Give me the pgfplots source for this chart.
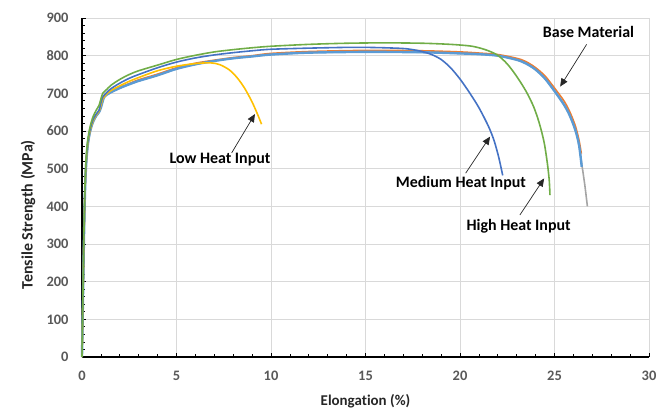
\documentclass[border=0pt]{standalone}
\usepackage{fontspec}
\setmainfont{Carlito}[Ligatures=NoCommon]
\usepackage{pgfplots}
\pgfplotsset{compat=1.18}
\usetikzlibrary{arrows.meta}

\definecolor{xlblue}{HTML}{4472C4}
\definecolor{xlorange}{HTML}{ED7D31}
\definecolor{xlgray}{HTML}{A5A5A5}
\definecolor{xlyellow}{HTML}{FFC000}
\definecolor{xllblue}{HTML}{5B9BD5}
\definecolor{xlgreen}{HTML}{70AD47}
\definecolor{gridgray}{HTML}{D9D9D9}
\definecolor{ticktext}{HTML}{595959}

\begin{document}
\begin{tikzpicture}
\path[use as bounding box] (-82bp,-55bp) rectangle (590bp,357bp);
\begin{axis}[
    at={(0,0)}, anchor=south west,
    scale only axis,
    width=567bp, height=339bp,
    xmin=0, xmax=30, ymin=0, ymax=900,
    enlargelimits=false,
    xtick distance=5, ytick distance=100,
    minor x tick num=4, minor y tick num=4,
    axis x line=bottom, axis y line=left,
    axis line style={-, black, line width=1.1pt},
    tick align=inside,
    major tick length=4bp, minor tick length=3bp,
    every tick/.style={black, line width=0.8pt},
    ymajorgrids=true, xmajorgrids=true,
    major grid style={gridgray, line width=0.8pt},
    /pgf/number format/assume math mode=true,
    tick label style={font=\bfseries\fontsize{14.5}{16}\selectfont, text=ticktext},
    xticklabel style={yshift=-11bp},
    yticklabel style={xshift=-10bp},
    xlabel={Elongation (\%)},
    ylabel={Tensile Strength (MPa)},
    label style={text=black!85},
    xlabel style={font=\bfseries\fontsize{15}{17}\selectfont,
                  at={(axis description cs:0.5,-0.13)}, anchor=center},
    ylabel style={font=\bfseries\fontsize{16}{18}\selectfont,
                  at={(axis description cs:-0.0952,0.42)}, anchor=center},
    clip=false,
]

% base material, three specimens
\addplot[xlgray, line width=1.6pt, smooth] coordinates {
 (0,0) (0.03,90) (0.07,210) (0.11,330) (0.16,440) (0.22,510) (0.3,560)
 (0.4,592) (0.5,612) (0.6,626) (0.75,640) (0.9,650) (1.0,662) (1.1,680)
 (1.2,692) (1.5,702) (2,714) (2.5,724) (3,733) (4,748) (5,765) (6,777)
 (7,786) (8,793) (9,798) (10,803) (12,808) (15,810) (18,809) (20,806)
 (21,804) (22,800) (23,789) (23.5,779) (24,763) (24.5,739) (25,706)
 (25.5,670) (25.8,642) (26.1,603) (26.3,562) (26.45,510) (26.6,458) (26.74,400)
};
\addplot[xlorange, line width=1.6pt, smooth] coordinates {
 (0,0) (0.03,92) (0.07,215) (0.11,335) (0.16,445) (0.22,515) (0.3,563)
 (0.4,594) (0.5,614) (0.6,628) (0.75,642) (0.9,652) (1.0,665) (1.1,682)
 (1.2,695) (1.5,704) (2,716) (2.5,726) (3,736) (4,751) (5,768) (6,780)
 (7,788) (8,795) (9,800) (10,806) (12,811) (15,814) (18,813) (20,810)
 (21,807) (22,803) (23,793) (23.5,784) (24,768) (24.5,746) (25,714)
 (25.5,680) (25.8,652) (26.1,614) (26.3,575) (26.42,540)
};
\addplot[xllblue, line width=2.4pt, smooth] coordinates {
 (0,0) (0.03,90) (0.07,210) (0.11,330) (0.16,440) (0.22,510) (0.3,560)
 (0.4,592) (0.5,612) (0.6,626) (0.75,640) (0.9,650) (1.0,662) (1.1,680)
 (1.2,692) (1.5,702) (2,714) (2.5,724) (3,733) (4,748) (5,765) (6,777)
 (7,786) (8,793) (9,798) (10,803) (12,808) (15,810) (18,809) (20,806)
 (21,804) (22,800) (23,789) (23.5,779) (24,763) (24.5,739) (25,706)
 (25.5,670) (25.8,642) (26.1,603) (26.3,562) (26.44,505)
};

% low heat input
\addplot[xlyellow, line width=1.6pt, smooth] coordinates {
 (0,0) (0.03,92) (0.07,215) (0.11,335) (0.16,445) (0.22,515) (0.3,563)
 (0.4,594) (0.5,614) (0.6,628) (0.75,642) (0.9,652) (1.0,668) (1.1,685)
 (1.3,698) (1.55,708) (2,720) (2.5,732) (3,742) (4,760) (5,772) (6,779)
 (6.8,781) (7.3,776) (7.8,762) (8.2,742) (8.6,714) (9.0,677) (9.3,643)
 (9.5,618)
};

% medium heat input
\addplot[xlblue, line width=1.6pt, smooth] coordinates {
 (0,0) (0.03,95) (0.07,220) (0.11,340) (0.16,450) (0.22,520) (0.3,568)
 (0.4,598) (0.5,618) (0.6,632) (0.75,645) (0.9,655) (1.0,675) (1.1,690)
 (1.3,702) (1.55,713) (2,727) (2.5,740) (3,750) (4,768) (5,783) (6,794)
 (7,802) (8,808) (9,813) (10,817) (12,820) (14,822) (15,822) (16,821)
 (17,819) (17.5,816) (18,811) (18.5,803) (19,790) (19.5,768) (20,738)
 (20.5,702) (21,662) (21.5,613) (21.8,575) (22.05,530) (22.26,482)
};

% high heat input
\addplot[xlgreen, line width=1.6pt, smooth] coordinates {
 (0,0) (0.03,100) (0.07,230) (0.11,350) (0.16,460) (0.22,530) (0.3,575)
 (0.4,605) (0.5,625) (0.6,640) (0.75,655) (0.9,668) (1.0,685) (1.1,700)
 (1.3,710) (1.55,722) (2,737) (2.5,750) (3,760) (4,775) (5,790) (6,801)
 (7,810) (8,816) (9,821) (10,825) (12,830) (14,833) (16,834) (18,833)
 (19.5,830) (20.5,826) (21,821) (21.5,813) (22,801) (22.5,778) (23,745)
 (23.5,705) (23.9,664) (24.2,620) (24.45,570) (24.62,515) (24.72,470)
 (24.76,430)
};

% annotations
\begin{scope}[every node/.style={font=\bfseries\fontsize{16}{18}\selectfont, text=black}]
\node at (axis cs:7.3,523) {Low Heat Input};
\node at (axis cs:20.05,462) {Medium Heat Input};
\node at (axis cs:23.1,348) {High Heat Input};
\node at (axis cs:26.8,863) {Base Material};
\end{scope}
\begin{scope}[-{Triangle[length=8bp,width=7bp]}, line width=0.7pt, black!85]
\draw (axis cs:7.92,542) -- (axis cs:9.15,645);
\draw (axis cs:20.3,488) -- (axis cs:21.59,585);
\draw (axis cs:23.17,377) -- (axis cs:24.45,474);
\draw (axis cs:26.7,830) -- (axis cs:25.3,718);
\end{scope}
\end{axis}
\end{tikzpicture}
\end{document}
